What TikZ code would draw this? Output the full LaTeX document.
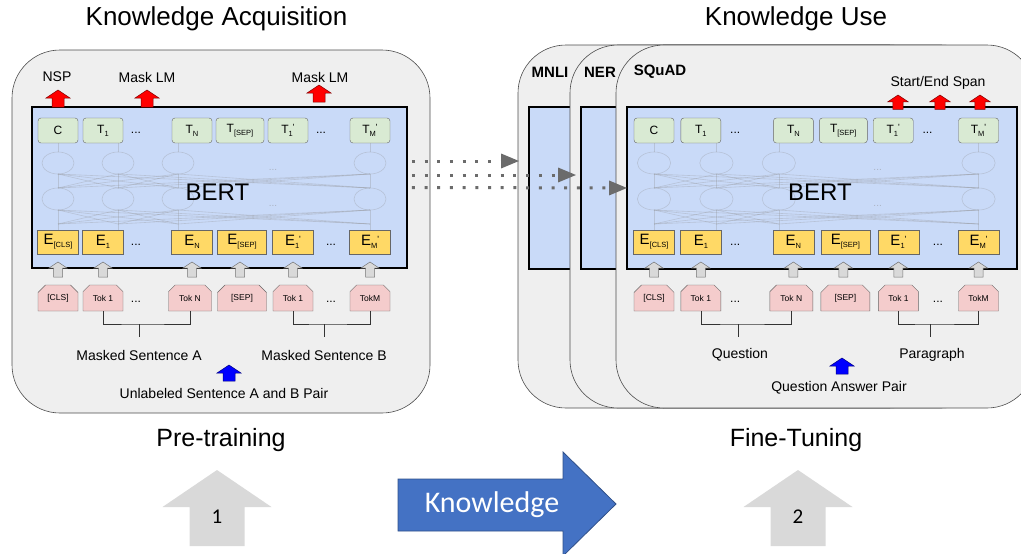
\documentclass[tikz,border=0pt]{standalone}
\usepackage{fontspec}
\setmainfont{Liberation Sans}
\newfontfamily\carlito{Carlito}
\usetikzlibrary{shapes.misc,arrows.meta}

\definecolor{cardgray}{HTML}{EFEFEF}
\definecolor{bertblue}{HTML}{C9DAF8}
\definecolor{tgreen}{HTML}{D9EAD3}
\definecolor{eyellow}{HTML}{FFD966}
\definecolor{tokpink}{HTML}{F4CCCC}
\definecolor{arrgray}{HTML}{D9D9D9}
\definecolor{knowblue}{HTML}{4472C4}

\newcommand\fs[1]{\fontsize{#1}{#1}\selectfont}
\newcommand\sub[1]{\raisebox{-3pt}{\fs{7.5}#1}}
\newcommand\subp[1]{\raisebox{-3pt}{\fs{7.5}#1}\raisebox{3pt}{\fs{9}\textquotesingle}}

\tikzset{
  card/.style={draw=black!70, fill=cardgray, rounded corners=48pt, line width=0.6pt},
  bertbox/.style={draw=black, fill=bertblue, line width=1.6pt},
  tbox/.style={draw=black!60, fill=tgreen, rounded corners=3pt, minimum width=40, minimum height=25, inner sep=0pt, font=\fs{12}},
  ebox/.style={draw=black!60, fill=eyellow, minimum width=41, minimum height=24, inner sep=0pt, font=\fs{15}},
  tokbox/.style={draw=black!60, fill=tokpink, chamfered rectangle, chamfered rectangle corners={north west,north east}, chamfered rectangle xsep=4pt, minimum width=40, minimum height=26, inner sep=0pt, font=\fs{8.5}},
  dots/.style={font=\fs{12}},
  net/.style={draw=black!45, draw opacity=0.3, line width=0.6pt},
  cell/.style={draw=black!45, draw opacity=0.3, line width=0.6pt},
  faint/.style={text=black!45, text opacity=0.5, font=\fs{10}},
  bert/.style={font=\fs{24}},
  bracket/.style={draw=black!80, line width=0.7pt},
  lbl/.style={font=\fs{14}},
  cardlbl/.style={font=\fs{15}\bfseries},
  head/.style={font=\fs{26}},
  num/.style={font=\carlito\fs{21}},
  redarr/.style={fill=red, draw=red!50!black, line width=0.5pt},
  grayarr/.style={fill=arrgray, draw=black!55, line width=0.5pt},
  bluearr/.style={fill=blue, draw=blue!50!black, line width=0.5pt},
  bigarr/.style={fill=arrgray},
  knowarr/.style={fill=knowblue, draw=knowblue!70!black, line width=0.8pt},
  knowtxt/.style={text=white, font=\carlito\fs{30}},
  dotarr/.style={draw=black!58, line width=3pt, dash pattern=on 3pt off 9.7pt, -{Triangle[length=18pt,width=14pt]}},
  redup/.pic={\path[pic actions] (0,0) -- (12,8) -- (6,8) -- (6,17) -- (-6,17) -- (-6,8) -- (-12,8) -- cycle;},
  grayup/.pic={\path[pic actions] (0,0) -- (9,6) -- (4.5,6) -- (4.5,15) -- (-4.5,15) -- (-4.5,6) -- (-9,6) -- cycle;},
  blueup/.pic={\path[pic actions] (0,0) -- (12,8) -- (6,8) -- (6,16) -- (-6,16) -- (-6,8) -- (-12,8) -- cycle;},
  bigup/.pic={\path[pic actions] (0,0) -- (54.5,37) -- (27.5,37) -- (27.5,76) -- (-27.5,76) -- (-27.5,37) -- (-54.5,37) -- cycle;}
}

\newcommand\bertblock{%
        \foreach \cx in {58,118,178,370}{
          \foreach \cy in {58,118,178,370}{
            \draw[net] (\cx,188) -- (\cy,174);
            \draw[net] (\cx,224) -- (\cy,210);
          }
          \draw[net] (\cx,152) -- (\cx,143);
          \draw[net] (\cx,230) -- (\cx,224);
          \draw[cell] (\cx,163) ellipse [x radius=16, y radius=11];
          \draw[cell] (\cx,199) ellipse [x radius=16, y radius=11];
        }
        \node[faint] at (273,170)(nd1){...};
        \node[faint] at (273,206)(nd2){...};
        \node[bert] at (217.5,192)(bt){BERT};

        \node[tbox] at (58,130.5)(t0){C};
        \node[tbox] at (103,130.5)(t1){T\sub{1}};
        \node[dots] at (136,133)(td1){...};
        \node[tbox] at (192,130.5)(tn){T\sub{N}};
        \node[tbox, minimum width=48] at (240,130.5)(tsep){T\sub{[SEP]}};
        \node[tbox] at (288,130.5)(t1p){T\subp{1}};
        \node[dots] at (321,133)(td2){...};
        \node[tbox] at (370,130.5)(tmp){T\subp{M}};

        \node[ebox] at (58,242)(e0){E\sub{[CLS]}};
        \node[ebox] at (103,242)(e1){E\sub{1}};
        \node[dots] at (136,245)(ed1){...};
        \node[ebox] at (192,242)(en){E\sub{N}};
        \node[ebox, minimum width=49] at (242,242)(esep){E\sub{[SEP]}};
        \node[ebox] at (293,242)(e1p){E\subp{1}};
        \node[dots] at (331,245)(ed2){...};
        \node[ebox] at (370,242)(emp){E\subp{M}};

        \node[tokbox] at (58,298)(k0){[CLS]};
        \node[tokbox] at (103,298)(k1){Tok 1};
        \node[dots] at (136,302)(kd1){...};
        \node[tokbox, minimum width=43] at (190,298)(kn){Tok N};
        \node[tokbox, minimum width=49] at (242,298)(ksep){[SEP]};
        \node[tokbox] at (293,298)(k1p){Tok 1};
        \node[dots] at (331,302)(kd2){...};
        \node[tokbox] at (370,298)(km){TokM};

        \pic[grayarr] at (58,262){grayup};
        \pic[grayarr] at (103,262){grayup};
        \pic[grayarr] at (192,262){grayup};
        \pic[grayarr] at (240,262){grayup};
        \pic[grayarr] at (293,262){grayup};
        \pic[grayarr] at (370,262){grayup};

        \coordinate (ja) at (139,324);
        \coordinate (la) at (139,337);
        \coordinate (jb) at (324,324);
        \coordinate (lb) at (324,337);
        \draw[bracket] (k1.south) |- (ja) -| (kn.south);
        \draw[bracket] (ja) -- (la);
        \draw[bracket] (k1p.south) |- (jb) -| (km.south);
        \draw[bracket] (jb) -- (lb);
}

\begin{document}
\begin{tikzpicture}[x=1pt, y=-1pt]
        \path[use as bounding box, clip] (0,0) rectangle (1021,554);

        \node[head] at (216.5,19)(hacq){Knowledge Acquisition};
        \node[head] at (796,19)(huse){Knowledge Use};

        \node[card, minimum width=418, minimum height=363] at (221,231.5)(cardl){};
        \node[bertbox, minimum width=375, minimum height=161] at (219.5,187.5)(bertl){};

        \node[card, minimum width=419, minimum height=363] at (727.5,226.5)(mnlicard){};
        \node[bertbox, minimum width=390, minimum height=162] at (724,188)(mnli){};
        \node[cardlbl] at (550,72)(mnlilbl){MNLI};
        \node[card, minimum width=419, minimum height=363] at (779.5,226.5)(nercard){};
        \node[bertbox, minimum width=390, minimum height=162] at (776,188)(ner){};
        \node[cardlbl] at (600,72)(nerlbl){NER};
        \node[card, minimum width=419, minimum height=363] at (825.5,226.5)(squadcard){};
        \node[bertbox, minimum width=390, minimum height=162] at (822,188)(squad){};
        \node[cardlbl] at (660,72)(squadlbl){SQuAD};

        \begin{scope}[name prefix=L-]
          \bertblock
        \end{scope}
        \begin{scope}[name prefix=R-, shift={(627,0)}, xscale=1.04, shift={(-32,0)}]
          \bertblock
        \end{scope}

        \node[lbl] at (57,77)(nsp){NSP};
        \node[lbl] at (147,77)(mlm1){Mask LM};
        \node[lbl] at (320,77)(mlm2){Mask LM};
        \pic[redarr] at (58,90){redup};
        \pic[redarr] at (147,90){redup};
        \pic[redarr] at (319,85){redup};
        \node[lbl] at (139,355)(msa){Masked Sentence A};
        \node[lbl] at (324,355)(msb){Masked Sentence B};
        \pic[bluearr] at (229,365){blueup};
        \node[lbl] at (224,393)(pairl){Unlabeled Sentence A and B Pair};

        \node[lbl] at (938,83)(span){Start/End Span};
        \pic[redarr, scale=.85] at (898,95){redup};
        \pic[redarr, scale=.85] at (940,95){redup};
        \pic[redarr, scale=.85] at (980,95){redup};
        \node[lbl] at (740,355)(qst){Question};
        \node[lbl] at (932,355)(para){Paragraph};
        \pic[bluearr] at (842,358){blueup};
        \node[lbl] at (839,388)(pairr){Question Answer Pair};

        \draw[dotarr] ([xshift=4pt,yshift=26.5pt]bertl.east) -- ([xshift=-9pt,yshift=27pt]mnli.west);
        \draw[dotarr] ([xshift=4pt,yshift=12.5pt]bertl.east) -- ([xshift=-4pt,yshift=13pt]ner.west);
        \draw[dotarr] ([xshift=4pt]bertl.east) -- ([xshift=1pt]squad.west);

        \node[head, font=\fs{25}] at (221,440)(pre){Pre-training};
        \node[head, font=\fs{25}] at (796,440)(fine){Fine-Tuning};
        \pic[bigarr] at (217,470){bigup};
        \node[num] at (217,517)(n1){1};
        \pic[bigarr] at (798,470){bigup};
        \node[num] at (798,517)(n2){2};
        \draw[knowarr] (398,479) -- (563,479) -- (563,452) -- (616,504) -- (563,556) -- (563,531) -- (398,531) -- cycle;
        \node[knowtxt] at (492,505)(know){Knowledge};
\end{tikzpicture}
\end{document}
